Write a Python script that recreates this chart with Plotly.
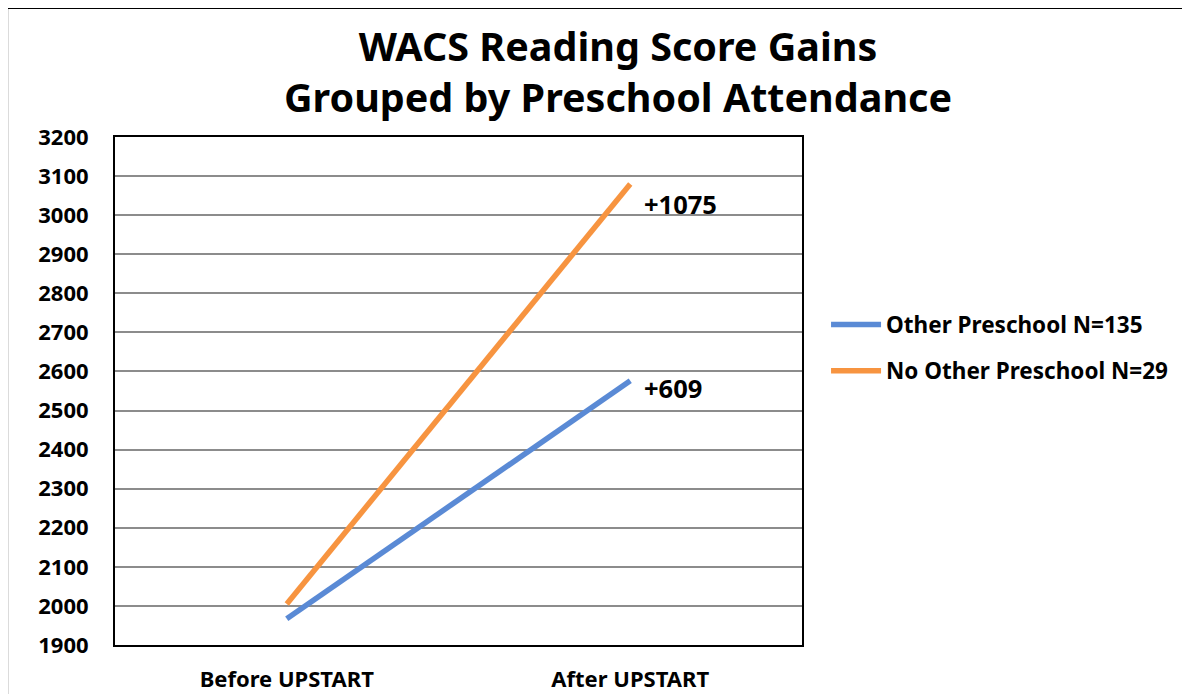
import plotly.graph_objects as go

categories = ["Before UPSTART", "After UPSTART"]
other_preschool = [1967, 2576]
no_other_preschool = [2005, 3080]
series_names = ["Other Preschool N=135", "No Other Preschool N=29"]
y_ticks = list(range(1900, 3201, 100))
title_lines = ["WACS Reading Score Gains", "Grouped by Preschool Attendance"]

FONT = "Noto Sans"
BLUE = "#5A8AD5"
ORANGE = "#F79440"

fig = go.Figure()
fig.add_trace(go.Scatter(x=categories, y=other_preschool, mode="lines",
                         name=series_names[0], legendgroup="a",
                         line=dict(color=BLUE, width=5.5)))
fig.add_trace(go.Scatter(x=categories, y=no_other_preschool, mode="lines",
                         name=series_names[1], legendgroup="b",
                         line=dict(color=ORANGE, width=5.5)))

# gain labels computed from the data
gain_other = other_preschool[1] - other_preschool[0]
gain_no = no_other_preschool[1] - no_other_preschool[0]
fig.add_annotation(x=categories[1], y=no_other_preschool[1], text=f"+{gain_no}",
                   showarrow=False, xanchor="left", yanchor="middle",
                   xshift=12, yshift=-20,
                   font=dict(family=FONT, size=25.5, color="black", weight=700))
fig.add_annotation(x=categories[1], y=other_preschool[1], text=f"+{gain_other}",
                   showarrow=False, xanchor="left", yanchor="middle",
                   xshift=12, yshift=-7,
                   font=dict(family=FONT, size=25.5, color="black", weight=700))

# title (two lines, one text)
fig.add_annotation(x=0.732, y=1.129, xref="paper", yref="paper",
                   text="<br>".join(title_lines),
                   showarrow=False, xanchor="center", yanchor="middle", align="center",
                   font=dict(family=FONT, size=39.5, color="black", weight=700))

# outer chart border
fig.add_shape(type="rect", xref="paper", yref="paper",
              x0=-0.157, x1=1.7, y0=-0.3, y1=1.254,
              line=dict(color="black", width=2), fillcolor="rgba(0,0,0,0)", layer="below")

fig.update_layout(
    width=1190, height=694,
    margin=dict(l=107, r=396, t=129, b=57, pad=0),
    paper_bgcolor="white", plot_bgcolor="white",
    font=dict(family=FONT, color="black"),
    showlegend=True,
    legend=dict(x=1.035, y=0.585, xanchor="left", yanchor="middle",
                itemwidth=50,
                font=dict(family=FONT, size=22.5, color="black", weight=700),
                tracegroupgap=14, bgcolor="rgba(0,0,0,0)"),
    xaxis=dict(type="category", range=[-0.5, 1.5], showgrid=False, automargin=False,
               showline=True, linecolor="black", linewidth=2, mirror=True,
               ticks="", zeroline=False, ticklabelstandoff=14,
               tickfont=dict(family=FONT, size=22, color="black", weight=700)),
    yaxis=dict(range=[1900, 3200], tickvals=y_ticks, showgrid=True, automargin=False,
               gridcolor="#8C8C8C", gridwidth=1.5,
               showline=True, linecolor="black", linewidth=2, mirror=True,
               ticks="", zeroline=False, ticklabelstandoff=20,
               tickfont=dict(family=FONT, size=22, color="black", weight=700)),
)

fig.write_html("out.html")
